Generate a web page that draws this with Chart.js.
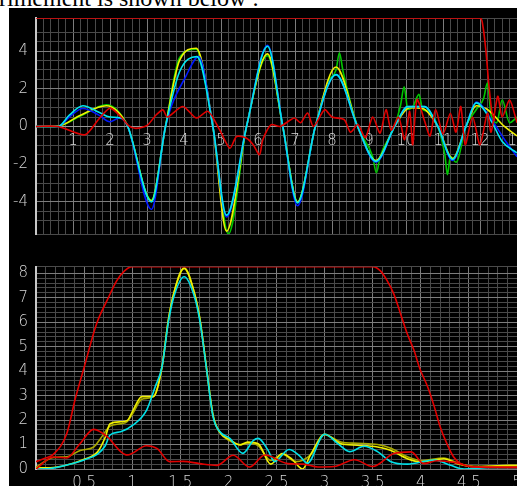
<!DOCTYPE html>
<html>
<head>
<meta charset="utf-8">
<script src="https://cdn.jsdelivr.net/npm/chart.js@4.4.0/dist/chart.umd.min.js"></script>
<style>
  html, body { margin: 0; padding: 0; background: #fff; width: 517px; height: 486px; overflow: hidden; }
  #caption { position: absolute; left: -1px; top: -14px; font: 24px "Liberation Serif", serif; line-height: 24px; color: #000; white-space: nowrap; }
  #panel { position: absolute; left: 9px; top: 8px; width: 508px; height: 478px; background: #000; }
  #top { position: absolute; left: 0; top: 0; }
  #bottom { position: absolute; left: 0; top: 240px; }
</style>
</head>
<body>
<div id="caption">rimement is shown below :</div>
<div id="panel"></div>
<canvas id="top" width="517" height="240"></canvas>
<canvas id="bottom" width="517" height="246"></canvas>
<script>
// ---- tick labels ----
var topXLabels = [1, 2, 3, 4, 5, 6, 7, 8, 9, 10, 11, 12, 13];
var topYLabels = [-4, -2, 0, 2, 4];
var botXLabels = [0.5, 1, 1.5, 2, 2.5, 3, 3.5, 4, 4.5, 5];
var botYLabels = [0, 1, 2, 3, 4, 5, 6, 7, 8];

// ---- upper plot (time signals) ----
var topRedWinX = [0, 12.0, 12.08, 12.16, 12.24, 12.32, 12.4];
var topRedWinY = [5.75, 5.75, 5.3, 4.0, 2.2, 0.8, 0.3];

var topYellowX = [0, 0.6, 1.2, 1.9, 2.2, 2.48, 3.12, 3.5, 3.88, 4.33, 4.78, 5.15, 5.69, 6.26, 6.67, 7.07, 7.55, 8.11, 8.69, 9.19, 9.69, 10.1, 10.45, 10.86, 11.26, 11.62, 11.9, 12.2, 12.66, 13];
var topYellowY = [0, 0.02, 0.6, 1.1, 0.8, 0, -3.95, 0, 3.5, 4.15, 0, -5.55, 0, 3.85, 0, -4.0, 0, 3.15, 0, -1.8, 0, 1.0, 0.95, 0, -1.7, 0, 1.1, 0.9, 0, -0.5];

var topCyanX = [0, 0.6, 0.9, 1.27, 1.7, 2.0, 2.3, 2.48, 3.12, 3.5, 3.88, 4.35, 4.78, 5.15, 5.69, 6.26, 6.67, 7.07, 7.55, 8.11, 8.69, 9.19, 9.69, 10.05, 10.5, 10.86, 11.26, 11.62, 11.9, 12.3, 12.6, 13];
var topCyanY = [0, 0, 0.6, 1.1, 0.75, 0.5, 0.45, 0, -4.0, 0, 2.9, 3.7, 0, -4.7, 0, 4.25, 0, -4.05, 0, 2.75, 0, -1.85, 0, 1.05, 1.05, 0, -1.75, 0, 1.25, 0.3, -0.8, -1.4];

var topBlueX = [0, 0.6, 0.9, 1.27, 1.7, 2.0, 2.25, 2.48, 3.12, 3.5, 4.06, 4.4, 4.78, 5.15, 5.69, 6.26, 6.67, 7.07, 7.55, 8.11, 8.69, 9.19, 9.69, 10.05, 10.5, 10.86, 11.26, 11.62, 11.9, 12.3, 12.7, 13];
var topBlueY = [0, 0, 0.5, 0.95, 0.6, 0.25, 0.45, 0, -4.4, 0, 2.7, 3.7, 0, -4.8, 0, 4.3, 0, -4.2, 0, 2.75, 0, -1.9, 0, 1.05, 1.05, 0, -1.8, 0, 1.3, 0.4, -0.8, -1.6];

var topGreenX = [0, 0.6, 1.2, 1.9, 2.2, 2.48, 3.12, 3.5, 3.88, 4.33, 4.78, 5.2, 5.69, 6.26, 6.67, 7.07, 7.55, 7.9, 8.11, 8.2, 8.3, 8.69, 9.1, 9.2, 9.3, 9.69, 9.85, 9.95, 10.05, 10.2, 10.35, 10.45, 10.6, 10.86, 11.05, 11.12, 11.2, 11.35, 11.62, 11.9, 12.1, 12.2, 12.3, 12.45, 12.6, 12.8, 13];
var topGreenY = [0, 0.02, 0.55, 1.15, 0.85, 0, -3.9, 0, 3.65, 4.1, 0, -5.7, 0, 3.75, 0, -4.0, 0, 2.4, 3.0, 3.9, 2.9, 0, -1.6, -2.45, -1.6, 0, 1.1, 2.1, 0.9, 1.1, 1.7, 0.9, 0.8, 0, -1.5, -2.55, -1.6, -1.9, 0, 0.9, 1.5, 2.3, 0.6, 0.2, 1.4, 0.2, 0.5];

var topRedX = [0, 0.6, 1.32, 1.7, 2.0, 2.3, 2.5, 2.7, 3.0, 3.25, 3.43, 3.55, 3.97, 4.33, 4.65, 4.96, 5.24, 5.42, 5.69, 5.87, 6.04, 6.13, 6.35, 6.6, 6.98, 7.15, 7.34, 7.5, 7.8, 8.0, 8.33, 8.5, 8.7, 8.9, 9.1, 9.3, 9.46, 9.6, 9.8, 9.96, 10.1, 10.18, 10.3, 10.5, 10.65, 10.8, 11.0, 11.2, 11.35, 11.48, 11.6, 11.8, 12.0, 12.2, 12.3, 12.48, 12.6, 12.8, 13];
var topRedY = [0, 0, -0.44, 0.4, 0.97, 0.5, 0.05, -0.1, 0.05, 0.62, 0.88, 0.5, 1.06, 0.45, 0.8, -0.17, -1.15, -0.53, -0.62, -0.97, -1.5, -0.7, 0.09, 0, 0.45, 0.2, 0.71, 0, 0.89, 0.5, 0.36, -0.3, 0.1, -0.6, 0.5, -0.35, 0.89, -0.2, 0.5, -0.7, 0.8, -0.97, 1.42, 0.3, -0.5, 0.9, -0.4, 0.7, -0.3, 1.06, -0.97, 0.5, -0.97, 0.7, -0.3, 1.6, 0.5, 1.4, 0.2];

// ---- lower plot (spectra) ----
var botRedWinX = [0, 0.1, 0.18, 0.32, 0.41, 0.5, 0.63, 0.74, 0.84, 0.92, 1.0, 3.5, 3.58, 3.65, 3.72, 3.79, 3.86, 3.93, 3.99, 4.07, 4.14, 4.2, 4.27, 4.34, 4.41, 4.52, 4.7, 5.0];
var botRedWinY = [0.3, 0.45, 0.6, 1.45, 2.9, 4.15, 5.94, 6.9, 7.7, 8.1, 8.27, 8.27, 8.1, 7.7, 7.15, 6.34, 5.52, 4.84, 4.1, 3.37, 2.55, 1.74, 1.05, 0.5, 0.23, 0.1, 0.08, 0.08];

var botCyanX = [0, 0.15, 0.32, 0.5, 0.64, 0.72, 0.77, 0.88, 1.01, 1.15, 1.24, 1.31, 1.376, 1.43, 1.54, 1.65, 1.705, 1.77, 1.84, 1.91, 2.015, 2.15, 2.26, 2.31, 2.41, 2.48, 2.63, 2.75, 2.82, 3.0, 3.14, 3.26, 3.41, 3.55, 3.69, 3.86, 4.14, 4.31, 4.45, 4.7, 5.0];
var botCyanY = [0, 0.02, 0.16, 0.37, 0.61, 0.95, 1.39, 1.52, 1.8, 2.41, 3.37, 4.18, 6.0, 7.0, 7.86, 7.0, 6.0, 4.16, 2.14, 1.53, 1.25, 0.64, 1.17, 1.25, 0.78, 0.3, 0.8, 0.5, 0.23, 1.42, 1.03, 0.71, 0.93, 0.71, 0.3, 0.2, 0.37, 0.15, 0.0, 0.05, 0.05];

var botYellowX = [0, 0.15, 0.32, 0.5, 0.64, 0.72, 0.77, 0.88, 0.95, 1.01, 1.1, 1.22, 1.31, 1.376, 1.43, 1.54, 1.65, 1.705, 1.77, 1.84, 1.91, 2.015, 2.12, 2.2, 2.31, 2.44, 2.56, 2.66, 2.77, 2.86, 3.0, 3.17, 3.34, 3.55, 3.69, 3.86, 4.0, 4.24, 4.38, 4.55, 4.93, 5.0];
var botYellowY = [0.05, 0.05, 0.16, 0.4, 0.7, 1.3, 1.85, 1.93, 1.99, 2.41, 2.96, 2.96, 4.18, 6.1, 7.15, 8.2, 7.15, 6.1, 4.2, 2.2, 1.5, 1.2, 0.98, 1.1, 1.03, 0.2, 0.63, 0.4, 0.0, 0.63, 1.42, 1.03, 0.97, 0.9, 0.76, 0.42, 0.29, 0.42, 0.22, 0.1, 0.15, 0.15];

var botOliveX = [0, 0.18, 0.32, 0.46, 0.6, 0.67, 0.77, 0.88, 0.95, 1.01, 1.1, 1.22, 1.31, 1.376, 1.43, 1.54, 1.65, 1.705, 1.77, 1.84, 1.91, 2.015, 2.12, 2.2, 2.31, 2.44, 2.56, 2.7, 2.86, 3.0, 3.17, 3.34, 3.55, 3.69, 3.86, 4.0, 4.24, 4.38, 4.55, 5.0];
var botOliveY = [0.07, 0.47, 0.5, 0.76, 0.9, 1.24, 1.75, 1.85, 1.95, 2.3, 2.85, 2.96, 4.18, 6.1, 7.15, 8.22, 7.15, 6.1, 4.2, 2.2, 1.5, 1.15, 1.0, 1.05, 0.95, 0.35, 0.6, 0.3, 0.6, 1.4, 1.1, 1.05, 1.0, 0.85, 0.5, 0.35, 0.45, 0.25, 0.1, 0.12];

var botRedX = [0, 0.18, 0.32, 0.45, 0.6, 0.74, 0.88, 0.95, 1.15, 1.26, 1.39, 1.53, 1.7, 1.88, 2.05, 2.22, 2.38, 2.62, 2.78, 2.93, 3.1, 3.31, 3.5, 3.72, 3.9, 4.03, 4.17, 4.35, 4.55, 5.0];
var botRedY = [0.0, 0.49, 0.45, 1.0, 1.62, 1.32, 0.71, 0.57, 0.95, 0.83, 0.3, 0.31, 0.22, 0.15, 0.56, 0.08, 0.57, 0.22, 0.2, 0.08, 0.1, 0.38, 0.1, 0.63, 0.7, 0.22, 0.34, 0.27, 0.08, 0.05];

var MINOR = '#4a4a4a';
var MAJOR = '#7c7c7c';
var TICK_FONT = { family: 'DejaVu Sans', size: 15, weight: 200 };
var TICK_COLOR = '#d6d6d6';

function pts(xs, ys) {
  var out = [];
  for (var i = 0; i < xs.length; i++) out.push({ x: xs[i], y: ys[i] });
  return out;
}

function near(v, list) {
  for (var i = 0; i < list.length; i++) {
    if (Math.abs(v - list[i]) < 1e-6) return true;
  }
  return false;
}

function isMult(v, step) {
  var r = v / step;
  return Math.abs(r - Math.round(r)) < 1e-6;
}

function line(xs, ys, color, smooth) {
  return {
    data: pts(xs, ys),
    borderColor: color,
    borderWidth: 1.6,
    pointRadius: 0,
    fill: false,
    cubicInterpolationMode: smooth ? 'monotone' : 'default',
    tension: smooth ? 0 : 0.25
  };
}

function gridOpts(majorStep) {
  return {
    drawTicks: false,
    color: function (ctx) {
      if (!ctx.tick) return MINOR;
      return isMult(ctx.tick.value, majorStep) ? MAJOR : MINOR;
    }
  };
}

function noPad(s) {
  s.paddingLeft = 0; s.paddingRight = 0; s.paddingTop = 0; s.paddingBottom = 0;
}

Chart.defaults.animation = false;
Chart.defaults.font.family = 'DejaVu Sans';

new Chart(document.getElementById('top'), {
  type: 'line',
  data: {
    datasets: [
      line(topRedWinX, topRedWinY, '#e00000', false),
      line(topRedX, topRedY, '#e00000', false),
      line(topCyanX, topCyanY, '#00e8f0', true),
      line(topBlueX, topBlueY, '#0018ff', true),
      line(topYellowX, topYellowY, '#f0f000', true),
      line(topGreenX, topGreenY, '#00c800', true)
    ]
  },
  options: {
    responsive: false,
    devicePixelRatio: 1,
    layout: { padding: { top: 18, bottom: 6, left: 0, right: 0 } },
    plugins: { legend: { display: false }, tooltip: { enabled: false } },
    scales: {
      x: {
        type: 'linear',
        position: { y: 0 },
        min: 0, max: 13,
        border: { color: '#9a9a9a', width: 1 },
        grid: gridOpts(1),
        ticks: {
          stepSize: 0.2, autoSkip: false, maxRotation: 0, padding: 6,
          color: TICK_COLOR, font: TICK_FONT,
          callback: function (v) { return near(v, topXLabels) ? String(Math.round(v)) : ''; }
        },
        afterFit: noPad
      },
      y: {
        type: 'linear',
        min: -5.7, max: 5.75,
        border: { color: '#c8c8c8', width: 2 },
        grid: gridOpts(2),
        ticks: {
          stepSize: 0.5, autoSkip: false, padding: 8,
          color: TICK_COLOR, font: TICK_FONT,
          callback: function (v) { return near(v, topYLabels) ? String(Math.round(v)) : ''; }
        },
        afterFit: function (s) { noPad(s); s.width = 36; }
      }
    }
  }
});

new Chart(document.getElementById('bottom'), {
  type: 'line',
  data: {
    datasets: [
      line(botRedWinX, botRedWinY, '#e00000', true),
      line(botRedX, botRedY, '#e00000', true),
      line(botCyanX, botCyanY, '#00e0e8', true),
      line(botYellowX, botYellowY, '#f0f000', true),
      line(botOliveX, botOliveY, '#a8a800', true)
    ]
  },
  options: {
    responsive: false,
    devicePixelRatio: 1,
    layout: { padding: { top: 26.7, bottom: 0, left: 0, right: 0 } },
    plugins: { legend: { display: false }, tooltip: { enabled: false } },
    scales: {
      x: {
        type: 'linear',
        min: 0, max: 5,
        border: { color: MAJOR, width: 1 },
        grid: gridOpts(0.5),
        ticks: {
          stepSize: 0.1, autoSkip: false, maxRotation: 0, padding: 5,
          color: TICK_COLOR, font: TICK_FONT,
          callback: function (v) { return near(v, botXLabels) ? String(Math.round(v * 10) / 10) : ''; }
        },
        afterFit: function (s) { noPad(s); s.height = 17; }
      },
      y: {
        type: 'linear',
        min: 0, max: 8.27,
        border: { color: '#c8c8c8', width: 2 },
        grid: gridOpts(1),
        ticks: {
          stepSize: 0.2, autoSkip: false, padding: 8,
          color: TICK_COLOR, font: TICK_FONT,
          callback: function (v) { return near(v, botYLabels) ? String(Math.round(v)) : ''; }
        },
        afterFit: function (s) { noPad(s); s.width = 36; }
      }
    }
  }
});
</script>
</body>
</html>
